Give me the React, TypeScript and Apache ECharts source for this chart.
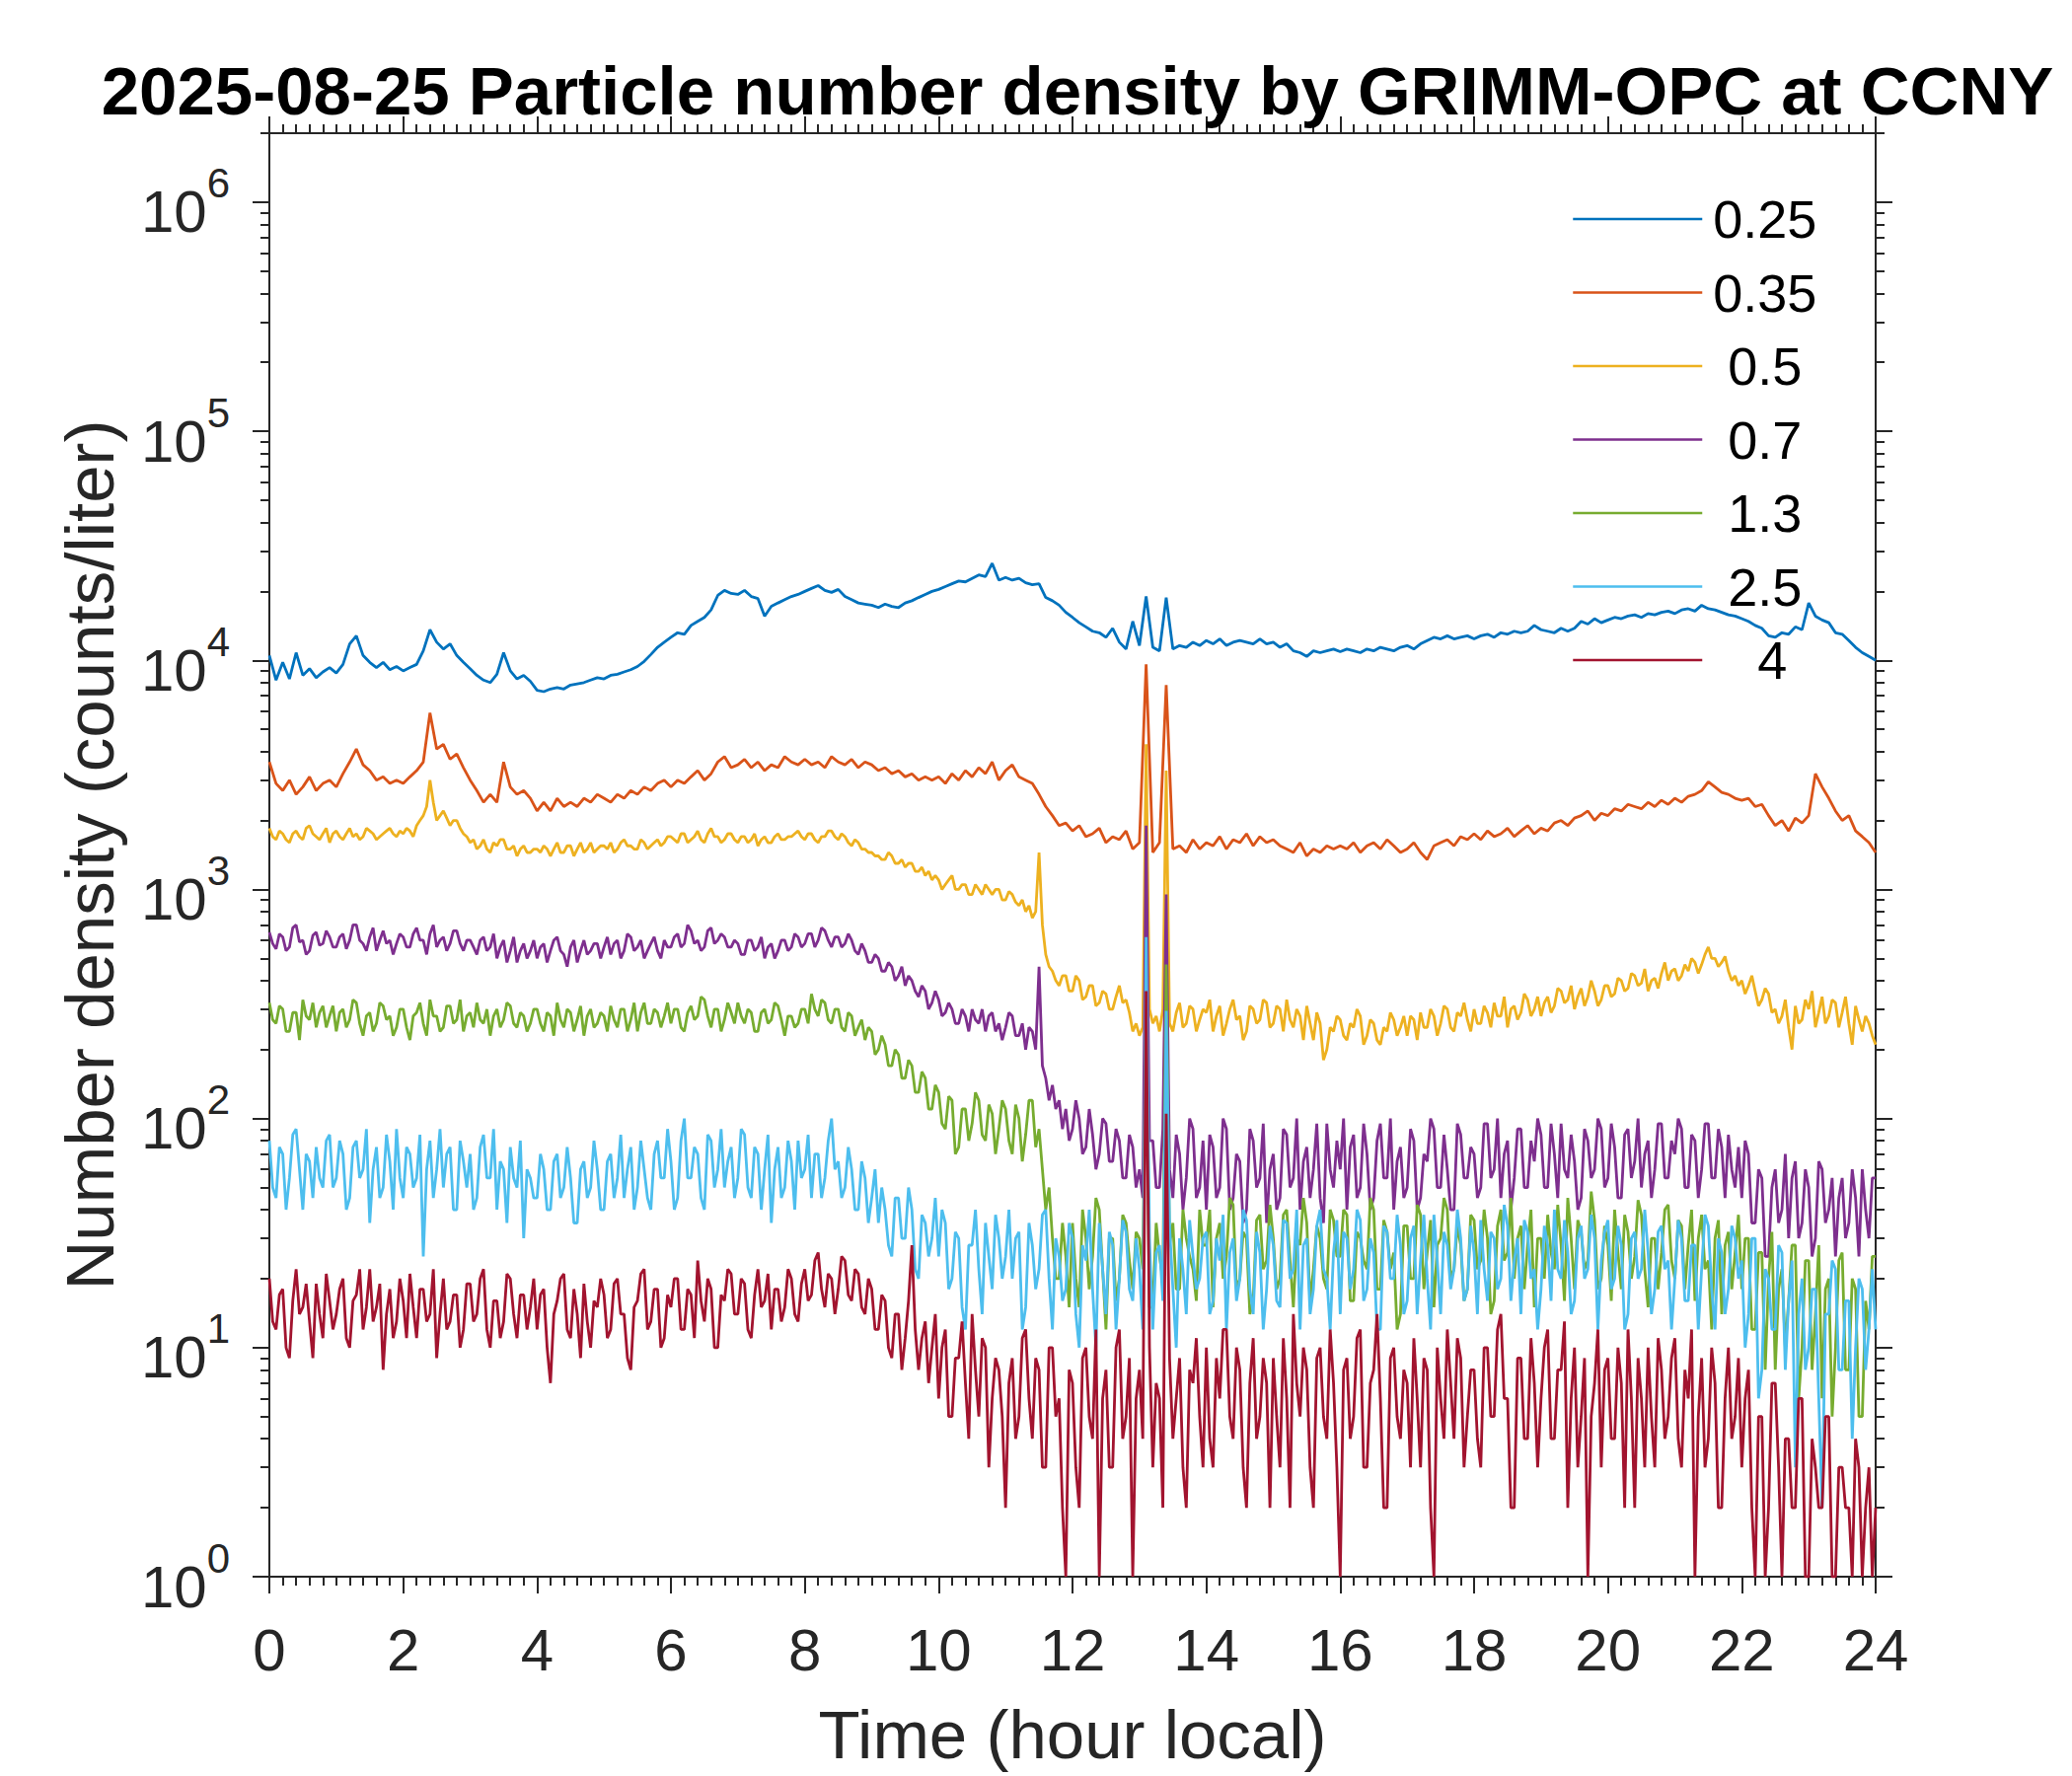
import React, { useEffect, useRef } from 'react';
import * as echarts from 'echarts';

// two sampling steps: the smooth channels were read every 0.1 h,
// the noisy channels every 0.05 h
const STEP_COARSE = 0.1;
const STEP_FINE = 0.05;

const sizeNames = ['0.25', '0.35', '\u00a00.5', '\u00a00.7', '\u00a01.3', '\u00a02.5', '\u00a0\u00a0\u00a04'];
const colors = ['#0072BD', '#D95319', '#EDB120', '#7E2F8E', '#77AC30', '#4DBEEE', '#A2142F'];

// 0.25 um, every 0.1 h
const d025 = [
  10500, 8200, 9800, 8300, 10800, 8600, 9200, 8400, 8900, 9300,
  8800, 9600, 11800, 12800, 10500, 9800, 9300, 9800, 9100, 9400,
  9000, 9300, 9600, 11000, 13600, 12000, 11200, 11800, 10500, 9800,
  9200, 8600, 8200, 8000, 8700, 10800, 9000, 8300, 8600, 8100,
  7400, 7300, 7500, 7600, 7500, 7800, 7900, 8000, 8200, 8400,
  8300, 8600, 8700, 8900, 9100, 9400, 9900, 10600, 11400, 12000,
  12600, 13200, 13000, 14200, 14800, 15400, 16600, 19200, 20200, 19600,
  19400, 20200, 19000, 18600, 15600, 17200, 17800, 18400, 19000, 19400,
  20000, 20600, 21200, 20200, 19800, 20400, 19000, 18400, 17800, 17600,
  17400, 17000, 17600, 17200, 17000, 17800, 18200, 18800, 19400, 20000,
  20400, 21000, 21600, 22200, 22000, 22800, 23600, 23200, 26500, 22400,
  23000, 22400, 22800, 21800, 21400, 21600, 18800, 18200, 17400, 16200,
  15400, 14600, 14000, 13400, 13200, 12600, 13800, 12000, 11200, 14800,
  11600, 19000, 11400, 11000, 18800, 11200, 11600, 11400, 12000, 11600,
  12200, 11800, 12400, 11600, 12000, 12200, 12000, 11800, 12400, 11800,
  12000, 11400, 11800, 11000, 10800, 10400, 11000, 10800, 11000, 11200,
  10900, 11200, 11000, 10800, 11200, 11000, 11400, 11200, 11000, 11400,
  11600, 11200, 11800, 12200, 12600, 12400, 12800, 12400, 12600, 12800,
  12400, 12800, 13000, 12600, 13200, 13000, 13400, 13200, 13400, 14200,
  13600, 13400, 13200, 13800, 13400, 13800, 14800, 14400, 15200, 14600,
  15000, 15400, 15200, 15600, 15800, 15400, 16000, 15800, 16200, 16400,
  16000, 16600, 16800, 16400, 17400, 16800, 16600, 16200, 15800, 15600,
  15200, 14800, 14200, 13800, 12800, 12600, 13200, 13000, 14000, 13600,
  17800, 15600, 15000, 14600, 13200, 13000, 12200, 11400, 10800, 10400,
  10000,
];

// 0.35 um, every 0.1 h
const d035 = [
  3600, 2900, 2700, 3000, 2600, 2800, 3100, 2700, 2900, 3000,
  2800, 3200, 3600, 4100, 3500, 3300, 3000, 3100, 2900, 3000,
  2900, 3100, 3300, 3600, 5900, 4100, 4300, 3700, 3900, 3400,
  3000, 2700, 2400, 2600, 2400, 3600, 2800, 2600, 2700, 2500,
  2200, 2400, 2200, 2500, 2300, 2400, 2300, 2500, 2400, 2600,
  2500, 2400, 2600, 2500, 2700, 2600, 2800, 2700, 2900, 3000,
  2800, 3000, 2900, 3100, 3300, 3000, 3200, 3600, 3800, 3400,
  3500, 3700, 3400, 3600, 3300, 3500, 3400, 3800, 3600, 3500,
  3700, 3500, 3600, 3400, 3800, 3600, 3500, 3700, 3400, 3600,
  3500, 3300, 3400, 3200, 3300, 3100, 3200, 3000, 3100, 3000,
  3100, 2900, 3200, 3000, 3300, 3100, 3400, 3200, 3600, 3000,
  3300, 3500, 3100, 3000, 2900, 2600, 2300, 2100, 1900, 1950,
  1800, 1900, 1700, 1750, 1850, 1600, 1700, 1650, 1800, 1500,
  1600, 9600, 1450, 1600, 7800, 1500, 1550, 1450, 1650, 1500,
  1600, 1550, 1700, 1500, 1650, 1600, 1750, 1550, 1700, 1600,
  1650, 1550, 1500, 1450, 1600, 1400, 1500, 1450, 1550, 1500,
  1550, 1500, 1600, 1450, 1550, 1600, 1500, 1650, 1550, 1450,
  1500, 1600, 1450, 1350, 1550, 1600, 1650, 1550, 1700, 1650,
  1750, 1650, 1800, 1700, 1750, 1850, 1700, 1800, 1900, 1750,
  1850, 1800, 1950, 2000, 1900, 2050, 2100, 2200, 2000, 2150,
  2100, 2250, 2200, 2350, 2300, 2250, 2400, 2300, 2450, 2350,
  2500, 2400, 2550, 2600, 2700, 2950, 2800, 2650, 2600, 2500,
  2450, 2500, 2300, 2350, 2100, 1900, 2000, 1800, 2050, 1950,
  2100, 3200, 2800, 2500, 2200, 2000, 2100, 1800, 1700, 1600,
  1450,
];

// 0.5 um, every 0.05 h
const d05 = [
  1850, 1700, 1650, 1800, 1750, 1650, 1600, 1750, 1800, 1700, 1650, 1850, 1900, 1750, 1700, 1650, 1750, 1850, 1600, 1750,
  1800, 1700, 1650, 1750, 1850, 1700, 1750, 1650, 1700, 1850, 1800, 1750, 1650, 1700, 1750, 1800, 1850, 1750, 1700, 1800,
  1750, 1850, 1800, 1700, 1900, 2000, 2100, 2300, 3000, 2400, 2000, 2100, 2200, 2050, 1900, 2000, 2000, 1850, 1750, 1700,
  1600, 1650, 1500, 1550, 1650, 1500, 1450, 1600, 1550, 1650, 1650, 1500, 1500, 1550, 1400, 1500, 1550, 1450, 1450, 1500,
  1500, 1450, 1550, 1500, 1400, 1500, 1600, 1450, 1450, 1550, 1550, 1400, 1500, 1600, 1450, 1500, 1600, 1450, 1500, 1550,
  1550, 1500, 1600, 1450, 1500, 1600, 1650, 1550, 1550, 1500, 1500, 1650, 1600, 1500, 1550, 1600, 1650, 1550, 1600, 1700,
  1700, 1650, 1600, 1750, 1750, 1600, 1650, 1700, 1800, 1650, 1600, 1750, 1850, 1700, 1700, 1600, 1650, 1750, 1750, 1650,
  1600, 1700, 1700, 1600, 1650, 1750, 1550, 1650, 1700, 1600, 1600, 1700, 1750, 1650, 1650, 1700, 1700, 1750, 1800, 1700,
  1650, 1750, 1750, 1650, 1600, 1700, 1700, 1800, 1800, 1700, 1650, 1750, 1700, 1600, 1550, 1650, 1600, 1500, 1500, 1450,
  1450, 1400, 1400, 1350, 1350, 1450, 1400, 1300, 1300, 1350, 1250, 1300, 1300, 1200, 1200, 1250, 1150, 1200, 1100, 1150,
  1100, 1000, 1050, 1100, 1150, 1000, 1000, 1050, 1050, 950, 950, 1050, 1000, 950, 1050, 1000, 950, 1000, 1000, 900,
  900, 980, 950, 880, 850, 900, 800, 850, 750, 800, 1450, 700, 520, 460, 440, 400, 380, 420, 420, 360,
  360, 420, 400, 330, 340, 380, 380, 310, 320, 360, 350, 300, 300, 340, 380, 320, 330, 290, 240, 260,
  230, 250, 4300, 300, 260, 280, 240, 300, 3300, 260, 240, 290, 320, 250, 260, 310, 300, 240, 270, 300,
  290, 330, 240, 280, 310, 230, 260, 300, 330, 270, 280, 220, 240, 310, 300, 260, 270, 330, 320, 250,
  260, 310, 300, 240, 330, 270, 250, 300, 280, 220, 310, 260, 220, 290, 260, 180, 200, 250, 240, 280,
  270, 230, 220, 260, 250, 300, 280, 210, 230, 270, 260, 220, 210, 250, 240, 290, 270, 230, 250, 280,
  230, 280, 270, 220, 290, 250, 250, 300, 280, 230, 260, 310, 300, 250, 240, 290, 280, 320, 270, 240,
  300, 260, 260, 310, 290, 250, 320, 280, 280, 340, 250, 300, 310, 270, 290, 350, 330, 280, 300, 340,
  280, 320, 340, 290, 310, 370, 360, 320, 330, 380, 300, 340, 370, 310, 340, 400, 360, 310, 330, 380,
  380, 340, 350, 410, 400, 360, 370, 430, 420, 380, 390, 450, 360, 400, 410, 370, 430, 480, 400, 440,
  450, 400, 420, 470, 440, 500, 480, 430, 470, 520, 560, 500, 500, 460, 480, 510, 440, 400, 420, 380,
  400, 350, 380, 420, 360, 310, 330, 370, 350, 290, 300, 260, 280, 330, 250, 200, 310, 260, 270, 330,
  300, 360, 250, 290, 340, 260, 280, 330, 320, 250, 290, 340, 260, 210, 310, 270, 240, 280, 260, 230,
  210,
];

// 0.7 um, every 0.05 h
const d07 = [
  650, 580, 550, 640, 620, 540, 560, 680, 700, 590, 600, 520, 540, 630, 650, 570, 580, 660, 620, 560,
  560, 620, 640, 550, 600, 700, 700, 600, 580, 540, 620, 680, 540, 600, 660, 580, 600, 520, 580, 640,
  620, 560, 560, 640, 680, 600, 600, 520, 640, 700, 560, 600, 620, 540, 580, 660, 660, 580, 540, 600,
  600, 560, 520, 600, 620, 540, 560, 640, 500, 560, 600, 480, 540, 620, 480, 540, 580, 500, 540, 600,
  500, 560, 580, 480, 540, 600, 620, 540, 520, 460, 560, 600, 480, 540, 600, 520, 540, 580, 580, 500,
  560, 620, 520, 580, 600, 500, 540, 640, 620, 540, 560, 600, 500, 540, 580, 620, 540, 500, 600, 560,
  560, 620, 640, 560, 580, 700, 660, 580, 600, 540, 560, 660, 680, 580, 600, 640, 620, 560, 560, 600,
  580, 520, 520, 600, 600, 540, 560, 620, 500, 560, 580, 500, 540, 600, 600, 540, 560, 640, 620, 560,
  580, 640, 640, 560, 600, 680, 660, 600, 560, 620, 620, 560, 580, 640, 600, 540, 520, 580, 540, 480,
  480, 520, 500, 440, 440, 480, 460, 400, 420, 460, 380, 420, 400, 360, 340, 380, 360, 300, 320, 360,
  330, 280, 290, 320, 300, 260, 260, 300, 280, 240, 300, 270, 260, 300, 240, 280, 290, 240, 260, 220,
  250, 290, 280, 230, 230, 260, 200, 250, 240, 200, 460, 170, 150, 120, 140, 110, 120, 90, 110, 80,
  90, 120, 100, 70, 75, 110, 85, 60, 70, 100, 95, 65, 65, 90, 80, 55, 55, 85, 75, 50,
  60, 45, 1900, 80, 80, 50, 50, 90, 950, 60, 45, 85, 70, 40, 55, 100, 90, 45, 50, 80,
  40, 85, 75, 45, 50, 100, 90, 40, 45, 70, 65, 35, 40, 90, 80, 50, 55, 95, 35, 60,
  70, 40, 45, 90, 85, 50, 55, 100, 40, 65, 75, 45, 60, 95, 45, 35, 95, 60, 50, 80,
  60, 100, 40, 75, 85, 45, 50, 95, 70, 40, 45, 80, 95, 55, 55, 100, 40, 65, 75, 45,
  50, 90, 80, 40, 45, 70, 65, 100, 90, 50, 50, 85, 60, 40, 40, 95, 85, 55, 55, 75,
  70, 45, 50, 95, 95, 55, 60, 100, 45, 70, 80, 40, 55, 90, 90, 50, 50, 80, 65, 100,
  85, 50, 50, 95, 70, 45, 95, 60, 55, 85, 65, 40, 45, 90, 80, 55, 60, 100, 90, 50,
  55, 95, 75, 45, 45, 85, 90, 55, 65, 100, 50, 70, 80, 45, 60, 95, 95, 55, 55, 80,
  70, 100, 90, 50, 50, 85, 80, 45, 60, 95, 95, 55, 55, 90, 75, 45, 85, 60, 50, 75,
  45, 80, 70, 35, 35, 60, 55, 25, 25, 50, 60, 35, 40, 70, 30, 55, 65, 30, 35, 60,
  50, 25, 30, 65, 60, 35, 40, 55, 25, 45, 55, 30, 35, 60, 45, 25, 60, 40, 30, 55,
  55,
];

// 1.3 um, every 0.05 h
const d13 = [
  320, 270, 260, 310, 300, 240, 240, 290, 290, 220, 330, 280, 270, 320, 250, 290, 310, 250, 280, 310,
  240, 290, 300, 250, 270, 330, 320, 260, 230, 280, 290, 240, 260, 320, 310, 270, 280, 230, 250, 300,
  300, 250, 220, 280, 290, 320, 260, 230, 330, 280, 280, 240, 250, 310, 310, 260, 270, 330, 240, 280,
  290, 250, 320, 270, 260, 300, 230, 280, 300, 250, 270, 320, 310, 260, 250, 290, 280, 240, 260, 300,
  300, 260, 240, 290, 280, 230, 320, 270, 250, 300, 290, 240, 270, 310, 230, 280, 300, 250, 260, 290,
  280, 240, 310, 270, 250, 300, 300, 240, 270, 320, 240, 290, 320, 260, 260, 300, 290, 250, 280, 320,
  260, 300, 300, 250, 240, 290, 310, 270, 280, 340, 330, 280, 250, 300, 300, 240, 270, 320, 290, 260,
  320, 280, 260, 300, 290, 240, 240, 290, 300, 260, 270, 320, 310, 270, 230, 280, 280, 250, 260, 300,
  300, 260, 350, 300, 280, 330, 320, 270, 260, 300, 300, 250, 240, 290, 280, 230, 250, 270, 220, 250,
  240, 190, 200, 230, 210, 170, 170, 200, 190, 150, 150, 180, 170, 130, 130, 160, 150, 110, 110, 140,
  130, 95, 90, 125, 120, 70, 75, 110, 110, 80, 95, 130, 120, 85, 80, 115, 105, 70, 90, 120,
  110, 80, 70, 115, 100, 65, 85, 120, 120, 75, 90, 60, 40, 50, 30, 20, 20, 35, 25, 15,
  35, 20, 15, 40, 30, 18, 25, 45, 40, 22, 12, 30, 30, 16, 20, 38, 35, 24, 18, 32,
  30, 22, 300, 15, 15, 35, 25, 20, 470, 28, 35, 18, 18, 40, 30, 25, 22, 16, 40, 28,
  28, 40, 15, 30, 35, 20, 25, 45, 42, 18, 20, 32, 30, 14, 16, 36, 38, 22, 24, 42,
  30, 18, 20, 38, 40, 24, 15, 30, 28, 45, 35, 16, 22, 34, 30, 20, 18, 40, 36, 25,
  25, 40, 38, 16, 16, 32, 30, 24, 22, 45, 40, 18, 18, 36, 32, 22, 26, 12, 14, 34,
  34, 20, 20, 42, 38, 18, 26, 36, 15, 28, 30, 45, 40, 20, 22, 34, 28, 16, 18, 38,
  36, 22, 24, 40, 30, 14, 16, 34, 40, 24, 26, 45, 20, 30, 34, 18, 28, 40, 15, 30,
  30, 20, 38, 26, 22, 42, 28, 16, 45, 30, 18, 36, 32, 22, 24, 48, 36, 18, 20, 34,
  28, 16, 40, 26, 18, 38, 32, 20, 25, 44, 38, 22, 15, 30, 30, 18, 26, 40, 42, 24,
  20, 36, 34, 18, 28, 40, 16, 30, 38, 22, 24, 12, 30, 36, 14, 28, 32, 18, 26, 38,
  18, 30, 30, 12, 12, 26, 26, 8, 20, 32, 8, 18, 22, 10, 16, 28, 28, 6, 10, 24,
  24, 8, 14, 28, 6, 18, 20, 5, 10, 24, 26, 8, 8, 20, 18, 5, 5, 16, 12, 25,
  25,
];

// 2.5 um, every 0.05 h
const d25 = [
  80, 50, 45, 75, 70, 40, 55, 85, 90, 60, 40, 70, 65, 45, 75, 55, 50, 80, 85, 50,
  55, 80, 70, 40, 45, 75, 80, 55, 60, 90, 35, 60, 75, 45, 50, 85, 65, 40, 90, 55,
  45, 75, 70, 50, 55, 85, 25, 60, 80, 45, 60, 90, 50, 70, 75, 40, 40, 80, 65, 50,
  70, 40, 45, 75, 85, 55, 55, 90, 40, 65, 60, 35, 75, 55, 50, 80, 30, 60, 55, 45,
  45, 70, 60, 40, 40, 65, 70, 45, 50, 75, 55, 35, 35, 60, 65, 45, 50, 80, 60, 40,
  40, 65, 70, 45, 55, 85, 45, 60, 75, 40, 50, 80, 60, 45, 40, 70, 80, 55, 55, 90,
  65, 40, 45, 80, 100, 55, 55, 75, 70, 45, 40, 85, 80, 50, 60, 90, 50, 65, 75, 45,
  55, 90, 85, 50, 45, 75, 70, 40, 60, 85, 35, 60, 75, 45, 50, 80, 65, 40, 80, 55,
  60, 85, 45, 70, 70, 45, 55, 80, 100, 60, 65, 45, 50, 75, 60, 40, 40, 65, 55, 35,
  45, 60, 35, 50, 40, 28, 25, 45, 45, 30, 30, 50, 40, 22, 20, 38, 35, 25, 30, 45,
  25, 40, 35, 18, 20, 32, 30, 15, 12, 28, 28, 40, 22, 14, 35, 25, 18, 38, 30, 20,
  25, 40, 20, 30, 32, 12, 15, 35, 28, 18, 22, 38, 40, 20, 12, 30, 25, 16, 18, 35,
  30, 14, 10, 28, 24, 40, 18, 10, 35, 22, 14, 32, 28, 12, 20, 36, 32, 18, 16, 30,
  22, 12, 620, 30, 12, 26, 28, 16, 295, 34, 18, 10, 30, 22, 14, 36, 25, 18, 20, 30,
  32, 14, 16, 30, 24, 38, 12, 26, 30, 16, 20, 40, 36, 18, 14, 32, 26, 12, 18, 34,
  28, 16, 15, 36, 35, 20, 22, 40, 12, 28, 30, 14, 18, 34, 40, 22, 20, 12, 26, 36,
  14, 32, 30, 18, 22, 40, 36, 16, 18, 30, 26, 12, 12, 34, 32, 20, 20, 38, 28, 14,
  16, 30, 34, 14, 24, 38, 20, 12, 38, 24, 14, 32, 28, 18, 22, 40, 30, 16, 18, 34,
  26, 14, 36, 22, 16, 32, 30, 18, 20, 42, 34, 16, 24, 30, 14, 36, 32, 20, 22, 12,
  18, 34, 28, 16, 40, 22, 20, 36, 26, 14, 16, 30, 34, 20, 22, 38, 30, 12, 24, 32,
  36, 18, 20, 34, 28, 12, 14, 30, 32, 20, 22, 40, 26, 14, 18, 32, 34, 22, 24, 12,
  20, 36, 30, 16, 16, 28, 28, 12, 22, 38, 34, 18, 12, 30, 26, 14, 18, 34, 30, 20,
  24, 10, 14, 30, 30, 6, 8, 22, 20, 12, 12, 28, 26, 8, 16, 24, 3, 14, 20, 8,
  10, 18, 18, 6, 2, 14, 14, 24, 22, 8, 8, 16, 16, 4, 10, 20, 18, 8, 12, 22,
  12,
];

// 4 um, every 0.05 h
const d4 = [
  20, 13, 12, 17, 18, 10, 9, 16, 22, 14, 15, 19, 13, 9, 19, 14, 11, 21, 16, 12,
  14, 18, 20, 11, 10, 16, 17, 22, 12, 15, 22, 13, 15, 19, 8, 14, 18, 11, 13, 20,
  16, 11, 21, 15, 11, 18, 18, 13, 14, 22, 9, 14, 20, 12, 13, 17, 17, 10, 12, 19,
  19, 13, 14, 20, 22, 12, 10, 16, 16, 11, 13, 21, 20, 14, 11, 17, 17, 12, 15, 20,
  12, 17, 18, 10, 7, 14, 16, 20, 21, 12, 11, 18, 14, 9, 19, 13, 10, 16, 15, 20,
  17, 11, 12, 19, 20, 14, 14, 9, 8, 15, 16, 21, 22, 12, 13, 18, 18, 10, 11, 17,
  15, 20, 20, 12, 12, 18, 17, 11, 24, 16, 13, 20, 18, 10, 10, 17, 16, 22, 21, 14,
  14, 20, 19, 12, 11, 17, 22, 15, 16, 21, 12, 18, 18, 13, 15, 22, 20, 14, 13, 19,
  22, 16, 17, 24, 26, 18, 15, 21, 20, 14, 18, 25, 24, 17, 16, 22, 21, 15, 14, 20,
  18, 12, 12, 17, 16, 10, 9, 14, 14, 8, 11, 16, 28, 12, 8, 11, 13, 7, 10, 14,
  6, 10, 12, 5, 5, 9, 9, 13, 7, 4, 14, 8, 5, 11, 10, 3, 6, 9, 8, 5,
  2, 7, 9, 4, 5, 11, 12, 6, 4, 9, 8, 3, 3, 10, 10, 5, 6, 2, 1, 8,
  7, 3, 2, 9, 10, 5, 4, 12, 1, 6, 8, 3, 3, 10, 12, 4, 5, 9, 1, 6,
  8, 4, 360, 10, 3, 7, 6, 2, 105, 9, 4, 6, 9, 3, 2, 8, 7, 11, 5, 3,
  10, 4, 3, 9, 6, 12, 12, 5, 4, 10, 8, 3, 2, 7, 11, 4, 5, 9, 7, 2,
  9, 5, 3, 11, 6, 2, 14, 7, 5, 10, 8, 3, 2, 9, 10, 5, 4, 12, 7, 3,
  1, 8, 9, 4, 5, 11, 12, 3, 3, 7, 8, 14, 6, 2, 2, 9, 10, 5, 4, 8,
  7, 3, 11, 6, 3, 9, 8, 2, 1, 10, 6, 4, 12, 7, 4, 11, 9, 3, 5, 8,
  8, 4, 3, 10, 10, 5, 5, 12, 14, 6, 6, 2, 2, 9, 9, 4, 4, 11, 7, 3,
  6, 10, 12, 4, 4, 8, 8, 13, 2, 6, 10, 3, 5, 9, 1, 5, 7, 12, 3, 8,
  9, 4, 4, 10, 7, 2, 12, 6, 2, 9, 6, 3, 10, 5, 3, 11, 8, 4, 5, 9,
  11, 4, 3, 8, 6, 12, 1, 5, 9, 3, 4, 10, 7, 2, 2, 6, 10, 4, 5, 9,
  3, 6, 8, 2, 1, 5, 5, 1, 2, 7, 7, 3, 1, 4, 4, 2, 2, 6, 6, 1,
  1, 4, 3, 2, 2, 5, 5, 1, 1, 3, 3, 2, 2, 1, 4, 3, 1, 2, 3, 1,
  2,
];

const allSeries = [d025, d035, d05, d07, d13, d25, d4];
const seriesStep = [STEP_COARSE, STEP_COARSE, STEP_FINE, STEP_FINE, STEP_FINE, STEP_FINE, STEP_FINE];

const majorY = [1, 10, 100, 1000, 10000, 100000, 1000000];
const minorY: number[] = [];
majorY.forEach((p) => {
  for (let k = 2; k <= 9; k++) {
    if (p * k <= 2e6) minorY.push(p * k);
  }
});

const FONT = '"Liberation Sans", Arial, Helvetica, sans-serif';
const AX = '#262626';

const App: React.FC = () => {
  const chartRef = useRef<HTMLDivElement>(null);

  useEffect(() => {
    document.body.style.margin = '0';
    const chart = echarts.init(chartRef.current, null, { renderer: 'svg' });

    const line = { color: AX, width: 2 };
    const xBase = {
      type: 'value',
      min: 0,
      max: 24,
      interval: 2,
      axisLine: { show: true, onZero: false, lineStyle: line },
      axisTick: { show: true, inside: false, length: 17, lineStyle: line },
      minorTick: { show: true, splitNumber: 10, length: 9, lineStyle: line },
      splitLine: { show: false },
    };
    const yBase = {
      type: 'log',
      logBase: 10,
      min: 1,
      max: 2e6,
      splitLine: { show: false },
      axisLine: { show: false },
    };

    const option = {
      animation: false,
      title: {
        text: '2025-08-25 Particle number density by GRIMM-OPC at CCNY',
        left: 1087,
        top: 53,
        textAlign: 'center',
        textStyle: { fontFamily: FONT, fontSize: 69, fontWeight: 'bold', color: '#000' },
      },
      legend: {
        orient: 'vertical',
        left: 1588,
        top: 190,
        itemWidth: 131,
        itemHeight: 20,
        itemGap: 20.5,
        data: sizeNames,
        itemStyle: { opacity: 0 },
        lineStyle: { width: 2.5 },
        textStyle: { fontFamily: FONT, fontSize: 54, color: '#000', padding: [0, 0, 0, 6] },
      },
      grid: { left: 273, right: 199, top: 135, bottom: 202, containLabel: false },
      xAxis: [
        {
          ...xBase,
          position: 'bottom',
          name: 'Time (hour local)',
          nameLocation: 'middle',
          nameGap: 126,
          nameTextStyle: { fontFamily: FONT, fontSize: 69, color: AX },
          axisLabel: { fontFamily: FONT, fontSize: 60, color: AX, margin: 44 },
        },
        { ...xBase, position: 'top', axisLabel: { show: false } },
      ],
      yAxis: [
        {
          ...yBase,
          position: 'left',
          axisLine: { show: true, lineStyle: line },
          axisTick: { show: true, inside: false, length: 17, lineStyle: line, customValues: majorY },
          name: 'Number density (counts/liter)',
          nameLocation: 'middle',
          nameRotate: 90,
          nameGap: 147,
          nameTextStyle: { fontFamily: FONT, fontSize: 69, color: AX },
          axisLabel: {
            customValues: majorY,
            margin: 40,
            formatter: (v: number) => `{b|10}{s|${Math.round(Math.log10(v))}}`,
            rich: {
              b: { fontFamily: FONT, fontSize: 60, color: AX, lineHeight: 80, verticalAlign: 'bottom' },
              s: { fontFamily: FONT, fontSize: 42, color: AX, lineHeight: 80, verticalAlign: 'top' },
            },
          },
        },
        {
          ...yBase,
          position: 'left',
          axisTick: { show: true, inside: false, length: 9, lineStyle: line, customValues: minorY },
          axisLabel: { show: false },
        },
        {
          ...yBase,
          position: 'right',
          axisLine: { show: true, lineStyle: line },
          axisTick: { show: true, inside: false, length: 17, lineStyle: line, customValues: majorY },
          axisLabel: { show: false },
        },
        {
          ...yBase,
          position: 'right',
          axisTick: { show: true, inside: false, length: 9, lineStyle: line, customValues: minorY },
          axisLabel: { show: false },
        },
      ],
      series: allSeries.map((vals, k) => ({
        name: sizeNames[k],
        type: 'line',
        xAxisIndex: 0,
        yAxisIndex: 0,
        data: vals.map((v, i) => [Math.round(i * seriesStep[k] * 100) / 100, v]),
        showSymbol: false,
        symbol: 'none',
        clip: true,
        silent: true,
        color: colors[k],
        lineStyle: { color: colors[k], width: 2.8 },
        emphasis: { disabled: true },
      })),
    };

    chart.setOption(option as any);
    return () => {
      chart.dispose();
    };
  }, []);

  return <div ref={chartRef} style={{ width: '2100px', height: '1800px' }} />;
};

export default App;
